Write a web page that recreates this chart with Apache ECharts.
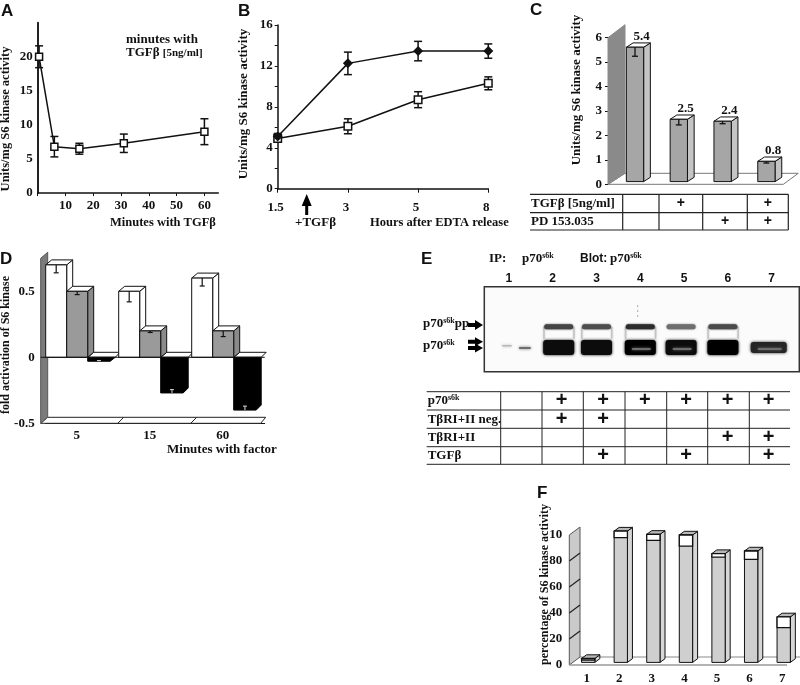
<!DOCTYPE html>
<html><head><meta charset="utf-8">
<script src="https://cdn.jsdelivr.net/npm/echarts@6/dist/echarts.min.js"></script>
<style>html,body{margin:0;padding:0;background:#fff}#c{width:800px;height:685px}</style>
</head><body><div id="c"></div>
<script>
// ---------- data ----------
const aMinutes=[0.5,6,15,31,60];
const aValues=[20,6.8,6.5,7.3,9.0];
const aErrors=[1.6,1.5,0.8,1.35,1.9];
const bHours=['1.5','3','5','8'];
const bTreated=[5.1,12.25,13.45,13.45];
const bTreatedErr=[0.3,1.1,0.95,0.7];
const bControl=[4.9,6.1,8.7,10.3];
const bControlErr=[0.2,0.73,0.78,0.63];
const cCats=['control','TGFb','PD','TGFb+PD'];
const cValues=[5.5,2.55,2.47,0.83];
const cLabels=['5.4','2.5','2.4','0.8'];
const cErrors=[0.37,0.23,0.1,0.07];
const dCats=['5','15','60'];
const dWhite=[0.7,0.5,0.6];
const dWhiteErr=[0.06,0.08,0.06];
const dGray=[0.5,0.2,0.2];
const dGrayErr=[0.025,0.012,0.043];
const dBlack=[-0.03,-0.27,-0.4];
const dBlackErr=[0.005,0.025,0.03];
const eLanes=['1','2','3','4','5','6','7'];
const eUpper=[0,0.72,0.68,0.82,0.55,0.7,0];
const eLower=[0.25,0.95,0.95,1,0.95,1,0.85];
const eDoublet=[0,0,0,1,1,0,1];
const fLanes=['1','2','3','4','5','6','7'];
const fGray=[1.8,96,93.8,89.5,81,79.3,26.7];
const fWhite=[1.2,5,4.7,8.5,2.7,6.4,8.3];
const fTicks=['0','20','40','60','80','10'];
const cTableRows=[['TGFβ [5ng/ml]',[1,3]],['PD 153.035',[2,3]]];
const eTableRows=[['p70{s|s6k}',[2,3,4,5,6,7]],['TβRI+II neg.',[2,3]],['TβRI+II',[6,7]],['TGFβ',[3,5,7]]];

// ---------- helpers ----------
const SERIF='"Liberation Serif",serif',SANS='"Liberation Sans",sans-serif',INK='#111';
const supRich={s:{fontFamily:SERIF,fontWeight:'bold',fontSize:8,fill:INK,verticalAlign:'top',lineHeight:14},
  n:{fontFamily:SERIF,fontWeight:'bold',fontSize:13,fill:INK,lineHeight:14}};
function txt(text,x,y,o){o=o||{};const s={text:text,fontFamily:o.font||SERIF,fontWeight:'bold',fontSize:o.size||13,fill:INK,align:o.align||'left',verticalAlign:'middle'};
  if(o.rich)s.rich=o.rich;
  return {type:'text',x:x,y:y,rotation:o.rot||0,silent:true,z:20,style:s};}
function ln(x1,y1,x2,y2,w,c){return {type:'line',silent:true,z:15,shape:{x1,y1,x2,y2},style:{stroke:c||'#222',lineWidth:w||1}};}
function poly(pts,fill,stroke,w){return {type:'polygon',shape:{points:pts},style:{fill:fill,stroke:stroke||'#111',lineWidth:w==null?1:w}};}
function box(x,top,bot,w,dx,dy,front,side,cap){return [
  poly([[x+w,top],[x+w+dx,top+dy],[x+w+dx,bot+dy],[x+w,bot]],side),
  poly([[x,top],[x+dx,top+dy],[x+w+dx,top+dy],[x+w,top]],cap),
  poly([[x,top],[x+w,top],[x+w,bot],[x,bot]],front)];}
function errSeries(x,y,xs,vals,errs,cap){return {type:'custom',xAxisIndex:x,yAxisIndex:y,clip:false,z:2,silent:true,
  data:vals.map(function(v,i){return [xs[i],v,errs[i]];}),
  renderItem:function(p,api){const X=api.value(0),V=api.value(1),E=api.value(2);
    const a=api.coord([X,V+E]),b=api.coord([X,V-E]),st={stroke:'#111',lineWidth:1.5};
    return {type:'group',children:[
      {type:'line',shape:{x1:a[0],y1:a[1],x2:b[0],y2:b[1]},style:st},
      {type:'line',shape:{x1:a[0]-cap,y1:a[1],x2:a[0]+cap,y2:a[1]},style:st},
      {type:'line',shape:{x1:b[0]-cap,y1:b[1],x2:b[0]+cap,y2:b[1]},style:st}]};}};}
const labelFont={fontFamily:SERIF,fontWeight:'bold',fontSize:13,color:INK};
const axisInk={lineStyle:{color:'#111',width:1.5}};
const axisInkBold={lineStyle:{color:'#222',width:2}};

// ---------- panel C ----------
const cSeries=[{type:'custom',xAxisIndex:2,yAxisIndex:2,silent:true,z:1,clip:false,data:[[0,0]],
  renderItem:function(p,api){const o=api.coord([0,0]),t=api.coord([0,6]),L=p.coordSys.x-5.1,R=p.coordSys.x+p.coordSys.width;
    return {type:'group',children:[
      poly([[L,o[1]],[L+17,o[1]-11],[R+10,o[1]-11],[R-5,o[1]]],'#fff','#777'),
      poly([[L,t[1]],[L+17,t[1]-13],[L+17,o[1]-11],[L,o[1]]],'#8a8a8a','#8a8a8a')]};}},
 {type:'custom',xAxisIndex:2,yAxisIndex:2,silent:true,z:3,clip:false,
  data:cValues.map(function(v,i){return [i,v,cErrors[i],cLabels[i]];}),
  renderItem:function(p,api){const i=api.value(0),v=api.value(1),e=api.value(2),lab=cLabels[i];
    const c=api.coord([i,v]),z=api.coord([i,0]),w=17.3,lift=2.7,x=c[0]-w/2,top=c[1]-lift,bot=z[1]-lift;
    const err=api.coord([i,v-e])[1]-lift;
    const kids=box(x,top,bot,w,6.7,-4.3,'#a6a6a6','#c4c4c4','#fff');
    kids.push({type:'line',shape:{x1:c[0],y1:top,x2:c[0],y2:err},style:{stroke:'#111',lineWidth:1.3}});
    kids.push({type:'line',shape:{x1:c[0]-3,y1:err,x2:c[0]+3,y2:err},style:{stroke:'#111',lineWidth:1.3}});
    kids.push({type:'text',style:{text:lab,x:c[0]+6.7,y:top-11,align:'center',verticalAlign:'middle',fontFamily:SERIF,fontWeight:'bold',fontSize:13,fill:INK}});
    return {type:'group',children:kids};}}];

// ---------- panel D ----------
const dFrame={type:'custom',xAxisIndex:3,yAxisIndex:3,silent:true,z:1,clip:false,data:[[0,0]],
  renderItem:function(p,api){const cs=p.coordSys,L=cs.x-5,R=cs.x+cs.width,b=api.coord([0,-0.5])[1],t=api.coord([0,0.75])[1];
    const kids=[poly([[L,b],[L+7,b-6],[R+1,b-6],[R-4,b]],'#fff','#222'),
      poly([[L,t],[L+7,t-6],[L+7,b-6],[L,b]],'#7b7b7b','#555')];
    for(let k=1;k<3;k++){const x=cs.x+k*cs.width/3;
      kids.push({type:'line',shape:{x1:x-1,y1:b,x2:x+5,y2:b-6},style:{stroke:'#222',lineWidth:1}});}
    return {type:'group',children:kids};}};
function dBars(vals,errs,slot,front,side){return {type:'custom',xAxisIndex:3,yAxisIndex:3,silent:true,z:3,clip:false,
  data:vals.map(function(v,i){return [i,v,errs[i]];}),
  renderItem:function(p,api){const i=api.value(0),v=api.value(1),e=api.value(2),z=api.coord([i,0]),c=api.coord([i,v]),bw=api.size([1,0])[0];
    const x=z[0]-bw/2+slot*21,w=21,mid=x+w/2,er=api.coord([i,v-e])[1];
    const kids=box(x,c[1],z[1],w,6,-5,front,side,'#fff');
    kids.push({type:'line',shape:{x1:mid,y1:c[1],x2:mid,y2:er},style:{stroke:'#111',lineWidth:1.2}});
    kids.push({type:'line',shape:{x1:mid-2.5,y1:er,x2:mid+2.5,y2:er},style:{stroke:'#111',lineWidth:1.2}});
    return {type:'group',children:kids};}};}
const dBlackSeries={type:'custom',xAxisIndex:3,yAxisIndex:3,silent:true,z:2,clip:false,
  data:dBlack.map(function(v,i){return [i,v,dBlackErr[i]];}),
  renderItem:function(p,api){const i=api.value(0),v=api.value(1),e=api.value(2),z=api.coord([i,0]),c=api.coord([i,v]),bw=api.size([1,0])[0];
    const x=z[0]-bw/2+42,w=22.5,dx=5,cut=Math.min(5,c[1]-z[1]),mid=x+w/2,er=api.coord([i,v+e])[1];
    return {type:'group',children:[
      poly([[x,z[1]],[x+6,z[1]-5],[x+w+10,z[1]-5],[x+w+dx,z[1]]],'#fff'),
      poly([[x,z[1]],[x+w+dx,z[1]],[x+w+dx,c[1]-cut],[x+w,c[1]],[x,c[1]]],'#000','#000'),
      {type:'line',shape:{x1:mid,y1:c[1],x2:mid,y2:er},style:{stroke:'#ddd',lineWidth:1}},
      {type:'line',shape:{x1:mid-2,y1:er,x2:mid+2,y2:er},style:{stroke:'#ddd',lineWidth:1}}]};}};
const dZero={type:'custom',xAxisIndex:3,yAxisIndex:3,silent:true,z:4,clip:false,data:[[0,0]],
  renderItem:function(p,api){const cs=p.coordSys,y=api.coord([0,0])[1];
    return {type:'line',shape:{x1:cs.x-5,y1:y,x2:cs.x+cs.width,y2:y},style:{stroke:'#111',lineWidth:1}};}};

// ---------- panel E ----------
const LANE_SHIFT=[8,6,0,0,-3,-5,-3];
const eBands={type:'custom',xAxisIndex:4,yAxisIndex:4,silent:true,z:3,clip:false,
  data:eLanes.map(function(l,i){return [i,eUpper[i],eLower[i],eDoublet[i]];}),
  renderItem:function(p,api){const i=api.value(0),u=api.value(1),l=api.value(2),d=api.value(3);
    const cx=api.coord([i,0])[0]+LANE_SHIFT[i],w=i===6?36:31,kids=[];
    const gray=function(a){const g=Math.round(245*(1-a));return 'rgb('+g+','+g+','+g+')';};
    const rect=function(x,y,wd,h,a,b){return {type:'rect',shape:{x:x,y:y,width:wd,height:h,r:3},style:{fill:gray(a),shadowBlur:b,shadowColor:gray(a)}};};
    const uy=api.coord([0,0.53])[1],ly=api.coord([0,0.29])[1];
    if(u>0.6){kids.push(rect(cx-w/2,uy,1.5,12,0.2,2),rect(cx+w/2-1,uy,1.5,12,0.2,2));}
    if(u>0)kids.push(rect(cx-w/2+1,uy-2.5,w-2,5,u,2));
    if(i===0){kids.push(rect(cx-15,ly-2,10,1.5,l,3),rect(cx+2,ly,12,2,l+0.3,3));}
    else{kids.push(rect(cx-w/2,ly-(i===6?5:7),w,i===6?11:15,l,3));
      if(d)kids.push(rect(cx-w/2+7,ly+1,w-12,2,0.55,3));}
    return {type:'group',children:kids};}};

// ---------- panel F ----------
const fFrame={type:'custom',xAxisIndex:5,yAxisIndex:5,silent:true,z:1,clip:false,data:[[0,0]],
  renderItem:function(p,api){const cs=p.coordSys,L=cs.x-2.6,o=api.coord([0,0])[1],t=api.coord([0,100])[1];
    const kids=[poly([[L,t],[L+10.7,t-8],[L+10.7,o-8],[L,o]],'#cacaca','#555'),
      {type:'line',shape:{x1:L+10.7,y1:o-8,x2:800,y2:o-8},style:{stroke:'#888',lineWidth:1}},
      {type:'line',shape:{x1:L,y1:o,x2:787,y2:o},style:{stroke:'#999',lineWidth:1.5}}];
    for(let v=20;v<=80;v+=20){const y=api.coord([0,v])[1];kids.push({type:'line',shape:{x1:L,y1:y,x2:L+10.7,y2:y-8},style:{stroke:'#222',lineWidth:1.2}});}
    return {type:'group',children:kids};}};
const fBars={type:'custom',xAxisIndex:5,yAxisIndex:5,silent:true,z:3,clip:false,
  data:fLanes.map(function(l,i){return [i,fGray[i],fWhite[i]];}),
  renderItem:function(p,api){const i=api.value(0),g=api.value(1),wv=api.value(2),lift=2.6,w=13.3;
    const z=api.coord([i,0]),t=api.coord([i,g+wv])[1]-lift,m=api.coord([i,g])[1]-lift,x=z[0]-w/2,bot=z[1]-lift;
    const kids=box(x,t,bot,w,5,-3.7,'#cfcfcf','#d6d6d6','#b8b8b8');
    kids.push(poly([[x,t],[x+w,t],[x+w,m],[x,m]],'#fff','#111',1.3));
    return {type:'group',children:kids};}};

// ---------- free graphics ----------
function arrow(y,head){return {type:'polygon',silent:true,z:15,shape:{points:[[468,y-2],[475,y-2],[475,y-head],[483,y],[475,y+head],[475,y+2],[468,y+2]]},style:{fill:'#000'}};}
const gr=[
 txt('A',1,11,{font:SANS,size:17}),txt('B',238,11,{font:SANS,size:17}),txt('C',530,10,{font:SANS,size:17}),
 txt('D',0,259,{font:SANS,size:17}),txt('E',421,259,{font:SANS,size:17}),txt('F',537,493,{font:SANS,size:17}),
 txt('Units/mg S6 kinase activity',6,119,{rot:Math.PI/2,align:'center',size:12.5}),
 txt('minutes with',126,40),
 txt('TGFβ {b|[5ng/ml]}',126,53,{rich:{b:{fontFamily:SERIF,fontWeight:'bold',fontSize:11,fill:INK}}}),
 txt('Minutes with TGFβ',110,223,{size:12.5}),
 txt('Units/mg S6 kinase activity',244,104,{rot:Math.PI/2,align:'center'}),
 txt('+TGFβ',295,223),txt('Hours after EDTA release',370,223,{size:12.5}),
 {type:'polygon',silent:true,z:15,shape:{points:[[306.7,194],[301.7,206],[305.2,206],[305.2,215],[308.2,215],[308.2,206],[311.7,206]]},style:{fill:'#000'}},
 txt('Units/mg S6 kinase activity',577,90,{rot:Math.PI/2,align:'center'}),
 txt('fold activation of S6 kinase',6,345,{rot:Math.PI/2,align:'center',size:12}),
 txt('Minutes with factor',167,450),
 txt('IP:',489,259),txt('p70{s|s6k}',522,259,{rich:supRich}),
 txt('Blot:',580,259,{font:SANS,size:12}),txt('p70{s|s6k}',610,259,{rich:supRich}),
 txt('p70{s|s6k}pp',423,324,{rich:supRich}),txt('p70{s|s6k}',423,346,{rich:supRich}),
 arrow(325,5),arrow(341.7,4.5),arrow(348,4.5),
 {type:'rect',silent:true,z:0,shape:{x:484.3,y:286.7,width:315,height:85},style:{fill:'#fbfbfb',stroke:'#333',lineWidth:1.5}},
 {type:'line',silent:true,z:1,shape:{x1:637.7,y1:305,x2:637.7,y2:317},style:{stroke:'#aaa',lineWidth:1,lineDash:[2,3]}},
 txt('percentage of S6 kinase activity',545,584.5,{rot:Math.PI/2,align:'center',size:12})
];
// table C: label column then four mark columns
const cXs=[530,622.7,659,702.7,747.3,788.3];
const cYs=[194.3,212.7,230];
cYs.forEach(function(y){gr.push(ln(cXs[0],y,cXs[5],y,1.2));});
cXs.slice(1).forEach(function(x){gr.push(ln(x,cYs[0],x,cYs[2],1.2));});
cTableRows.forEach(function(r,i){const cy=(cYs[i]+cYs[i+1])/2;
  gr.push(txt(r[0],cXs[0]+1,cy));
  r[1].forEach(function(c){gr.push(txt('+',(cXs[c+1]+cXs[c+2])/2,cy,{align:'center',size:14,font:SANS}));});});
// table E: label column then seven mark columns
const eXs=[426.7,500.7,542,583.3,625,666.7,707.7,749.3,790];
const eYs=[391.7,410,428.3,446.7,464.3];
eYs.forEach(function(y){gr.push(ln(eXs[0],y,eXs[8],y,1));});
eXs.slice(1,8).forEach(function(x){gr.push(ln(x,eYs[0],x,eYs[4],1));});
eTableRows.forEach(function(r,i){const cy=(eYs[i]+eYs[i+1])/2;
  gr.push(txt(r[0],eXs[0]+1,cy,{rich:supRich}));
  r[1].forEach(function(c){gr.push(txt('+',(eXs[c]+eXs[c+1])/2-1,cy,{align:'center',size:20,font:SANS}));});});

// ---------- option ----------
const noAxis={show:false};
const option={animation:false,backgroundColor:'#fff',
 grid:[
  {left:37.7,top:22.7,width:180.6,height:170.3},
  {left:277.7,top:25,width:210.6,height:163.7},
  {left:613.1,top:37.7,width:175.2,height:146.6},
  {left:45.7,top:258.3,width:219,height:165},
  {left:487,top:286.7,width:306.6,height:85},
  {left:571.9,top:535,width:229.4,height:133.3}],
 xAxis:[
  {gridIndex:0,type:'value',min:0,max:65,axisLine:axisInk,axisTick:{length:3,customValues:[0,10,20,30,40,50,60],lineStyle:{color:'#111'}},splitLine:noAxis,
   axisLabel:Object.assign({customValues:[10,20,30,40,50,60],margin:6},labelFont)},
  {gridIndex:1,type:'category',data:bHours,boundaryGap:false,axisLine:axisInk,axisTick:{length:4,lineStyle:{color:'#111'}},axisLabel:Object.assign({margin:12,padding:[0,4,0,0]},labelFont)},
  {gridIndex:2,type:'category',data:cCats,show:false},
  {gridIndex:3,type:'category',data:dCats,position:'bottom',axisLine:{onZero:false,lineStyle:{color:'#111'}},axisTick:{length:4,lineStyle:{color:'#111'}},axisLabel:Object.assign({margin:6,padding:[0,11,0,0]},labelFont)},
  {gridIndex:4,type:'category',data:eLanes,position:'top',axisLine:noAxis,axisTick:noAxis,axisLabel:{fontFamily:SANS,fontWeight:'bold',fontSize:12,color:INK,margin:2}},
  {gridIndex:5,type:'category',data:fLanes,axisLine:noAxis,axisTick:noAxis,axisLabel:Object.assign({margin:7,padding:[0,3,0,0]},labelFont)}],
 yAxis:[
  {gridIndex:0,type:'value',min:0,max:25,interval:5,axisLine:Object.assign({show:true},axisInkBold),axisTick:{show:false},splitLine:noAxis,
   axisLabel:Object.assign({showMaxLabel:false,margin:5},labelFont)},
  {gridIndex:1,type:'value',min:0,max:16,interval:2,axisLine:Object.assign({show:true},axisInk),axisTick:{show:true,length:3,lineStyle:{color:'#111'}},splitLine:noAxis,
   axisLabel:Object.assign({margin:5,formatter:function(v){return v%4===0?String(v):'';}},labelFont)},
  {gridIndex:2,type:'value',min:0,max:6,interval:1,offset:5.1,axisLine:{show:true,lineStyle:{color:'#111'}},axisTick:{show:true,length:3,lineStyle:{color:'#111'}},splitLine:noAxis,
   axisLabel:Object.assign({margin:6},labelFont)},
  {gridIndex:3,type:'value',min:-0.5,max:0.75,interval:0.5,offset:5,axisLine:{show:false},axisTick:{show:false},splitLine:noAxis,
   axisLabel:Object.assign({showMaxLabel:false,margin:6},labelFont)},
  {gridIndex:4,type:'value',min:0,max:1,show:false},
  {gridIndex:5,type:'value',min:0,max:100,interval:20,offset:2.6,axisLine:noAxis,axisTick:noAxis,splitLine:noAxis,
   axisLabel:Object.assign({margin:7,padding:[6,0,0,0],formatter:function(v){return fTicks[v/20];}},labelFont)}],
 graphic:{elements:gr},
 series:[
  errSeries(0,0,aMinutes,aValues,aErrors,4),
  {type:'line',xAxisIndex:0,yAxisIndex:0,clip:false,z:3,silent:true,data:aMinutes.map(function(m,i){return [m,aValues[i]];}),symbol:'rect',symbolSize:7,showAllSymbol:true,
   lineStyle:{color:'#111',width:1.5},itemStyle:{color:'#fff',borderColor:'#111',borderWidth:1.5}},
  errSeries(1,1,[0,1,2,3],bControl,bControlErr,4),
  errSeries(1,1,[0,1,2,3],bTreated,bTreatedErr,4),
  {type:'line',xAxisIndex:1,yAxisIndex:1,clip:false,z:3,silent:true,data:bControl,symbol:'rect',symbolSize:7.5,showAllSymbol:true,
   lineStyle:{color:'#111',width:1.5},itemStyle:{color:'#fff',borderColor:'#111',borderWidth:1.5}},
  {type:'line',xAxisIndex:1,yAxisIndex:1,clip:false,z:4,silent:true,data:bTreated,symbol:'diamond',symbolSize:10,showAllSymbol:true,
   lineStyle:{color:'#111',width:1.5},itemStyle:{color:'#111'}},
  cSeries[0],cSeries[1],
  dFrame,dBlackSeries,dBars(dWhite,dWhiteErr,0,'#fff','#fff'),dBars(dGray,dGrayErr,1,'#9a9a9a','#8a8a8a'),dZero,
  eBands,
  fFrame,fBars]};
echarts.init(document.getElementById('c'),null,{renderer:'canvas'}).setOption(option);
</script></body></html>
